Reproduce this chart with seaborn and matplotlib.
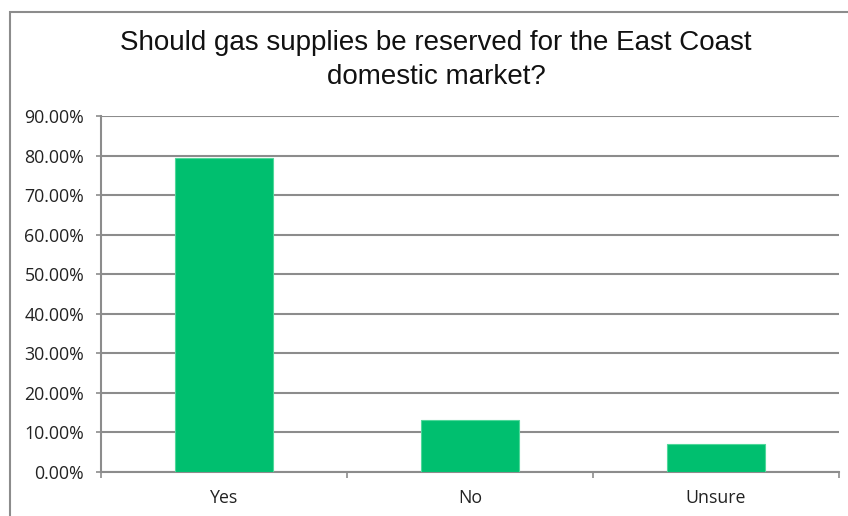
import matplotlib
matplotlib.use("Agg")
import matplotlib.pyplot as plt
import seaborn as sns
import pandas as pd
import numpy as np
from matplotlib.ticker import FuncFormatter, FixedLocator
from matplotlib.patches import Rectangle

categories = ["Yes", "No", "Unsure"]
values = [79.3, 13.2, 7.1]
title = "Should gas supplies be reserved for the East Coast\ndomestic market?"

sns.set_theme(style="white")
plt.rcParams['font.family'] = ['Liberation Sans', 'DejaVu Sans']

df = pd.DataFrame({"Answer": categories, "Percent": values})

fig = plt.figure(figsize=(8.48, 5.16), dpi=100)
ax = fig.add_axes([101/848, 1 - 472/516, (839-101)/848, (472-116)/516])

sns.barplot(data=df, x="Answer", y="Percent", ax=ax, color="#00BF6F",
            width=0.4, saturation=1, edgecolor="#4FD89A", linewidth=0.8, zorder=3)

ax.set_ylim(0, 90)
ax.set_xlim(-0.5, 2.5)
ax.set_yticks(np.arange(0, 91, 10))
ax.yaxis.set_major_formatter(FuncFormatter(lambda v, p: f"{v:.2f}%"))
ax.grid(axis="y", color="#8C8C8C", linewidth=1.5, zorder=0)
ax.set_xlabel("")
ax.set_ylabel("")

for s in ["top", "right"]:
    ax.spines[s].set_visible(False)
for s in ["left", "bottom"]:
    ax.spines[s].set_color("#8C8C8C")
    ax.spines[s].set_linewidth(1.5)

tick_font = ['Open Sans', 'DejaVu Sans']
ax.tick_params(axis="y", which="major", direction="out", length=3.6, width=1.2,
               color="#8C8C8C", labelsize=12.8, labelcolor="#222222", pad=8.5, left=True)
ax.tick_params(axis="x", which="major", length=0, labelsize=12.8, labelcolor="#222222", pad=12)
ax.xaxis.set_minor_locator(FixedLocator([-0.5, 0.5, 1.5, 2.5]))
ax.tick_params(axis="x", which="minor", direction="out", length=4.5, width=1.2,
               color="#8C8C8C", bottom=True)
for lab in ax.get_yticklabels() + ax.get_xticklabels():
    lab.set_family(tick_font)

fig.text(436/848, 1 - 60/516, title, ha="center", va="center", fontsize=20,
         color="#111111", linespacing=1.42)

fig.patches.append(Rectangle((10/848, -0.1), 1.2, 1 - 12/516 + 0.1,
                             transform=fig.transFigure, fill=False,
                             edgecolor="#8C8C8C", linewidth=1.5, figure=fig))

fig.savefig("out.png", dpi=100)
